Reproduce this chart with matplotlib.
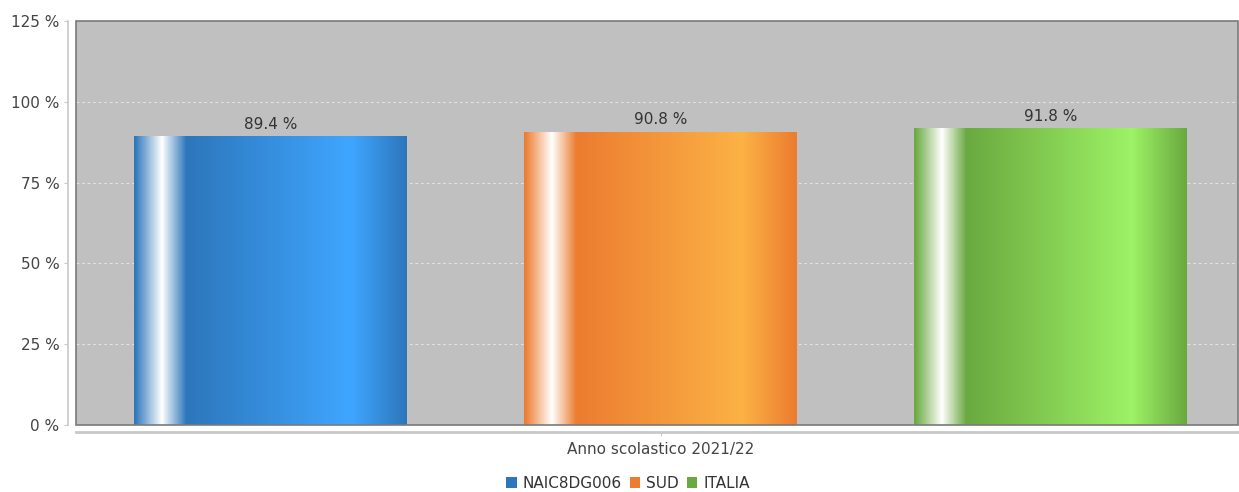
import numpy as np
import matplotlib.pyplot as plt
from matplotlib.colors import LinearSegmentedColormap
from matplotlib.patches import Rectangle, Patch

series = ["NAIC8DG006", "SUD", "ITALIA"]
values = [89.4, 90.8, 91.8]
category = "Anno scolastico 2021/22"
yticks = [0, 25, 50, 75, 100, 125]

# dark / light shade for each bar
dark = ["#2d76bb", "#ec7c30", "#6aa940"]
light = ["#3fa6ff", "#fcb245", "#9ef266"]

fig = plt.figure(figsize=(12.39, 4.92), dpi=100)
ax = fig.add_axes([76 / 1239, 1 - 425 / 492, 1162 / 1239, 404 / 492])
ax.set_facecolor("#c0c0c0")

x = np.arange(len(series))
bars = ax.bar(x, values, width=0.7, color=dark, zorder=2)

grad = np.linspace(0, 1, 400)
for b, d, l in zip(bars, dark, light):
    cmap = LinearSegmentedColormap.from_list(
        "g", [(0, d), (0.10, "#ffffff"), (0.19, d), (0.80, l), (1.0, d)])
    img = ax.imshow(grad[None, :], cmap=cmap, aspect="auto", zorder=3,
                    extent=[b.get_x(), b.get_x() + b.get_width(), 0, b.get_height()])
    img.set_clip_path(b)
    ax.text(b.get_x() + b.get_width() / 2, b.get_height() + 1.3,
            f"{b.get_height():.1f} %", ha="center", va="bottom",
            fontsize=11, color="#333333", zorder=4)

ax.set_xlim(-0.5, 2.48)
ax.set_ylim(0, 125)
ax.set_yticks(yticks)
ax.set_yticklabels([f"{v} %" for v in yticks])
ax.set_xticks([1])
ax.set_xticklabels([category])

for v in yticks[1:-1]:
    ax.axhline(v, color="#e2e2e2", lw=0.8, ls=(0, (2.5, 2.5)), zorder=1)

# plot outline
ax.add_patch(Rectangle((0, 0), 1, 1, transform=ax.transAxes, fill=False,
                       ec="#7a7a7a", lw=1.2, zorder=5, clip_on=False))

for s in ["top", "right"]:
    ax.spines[s].set_visible(False)
ax.spines["left"].set_position(("outward", 6))
ax.spines["bottom"].set_position(("outward", 5))
ax.spines["left"].set_color("#c8c8c8")
ax.spines["bottom"].set_color("#c8c8c8")
ax.spines["left"].set_linewidth(1.2)
ax.spines["bottom"].set_linewidth(2)

ax.tick_params(axis="y", length=3, color="#c8c8c8", labelsize=11,
               labelcolor="#444444", pad=3)
ax.tick_params(axis="x", length=3, color="#c8c8c8", labelsize=11,
               labelcolor="#444444", pad=4)

handles = [Patch(facecolor=d, edgecolor="none") for d in dark]
fig.legend(handles, series, loc="center", bbox_to_anchor=(628 / 1239, 1 - 483 / 492),
           ncol=3, frameon=False, fontsize=11, handlelength=0.7, handleheight=0.7,
           handletextpad=0.4, columnspacing=0.5, labelcolor="#333333")

fig.savefig("out.png", dpi=100)
